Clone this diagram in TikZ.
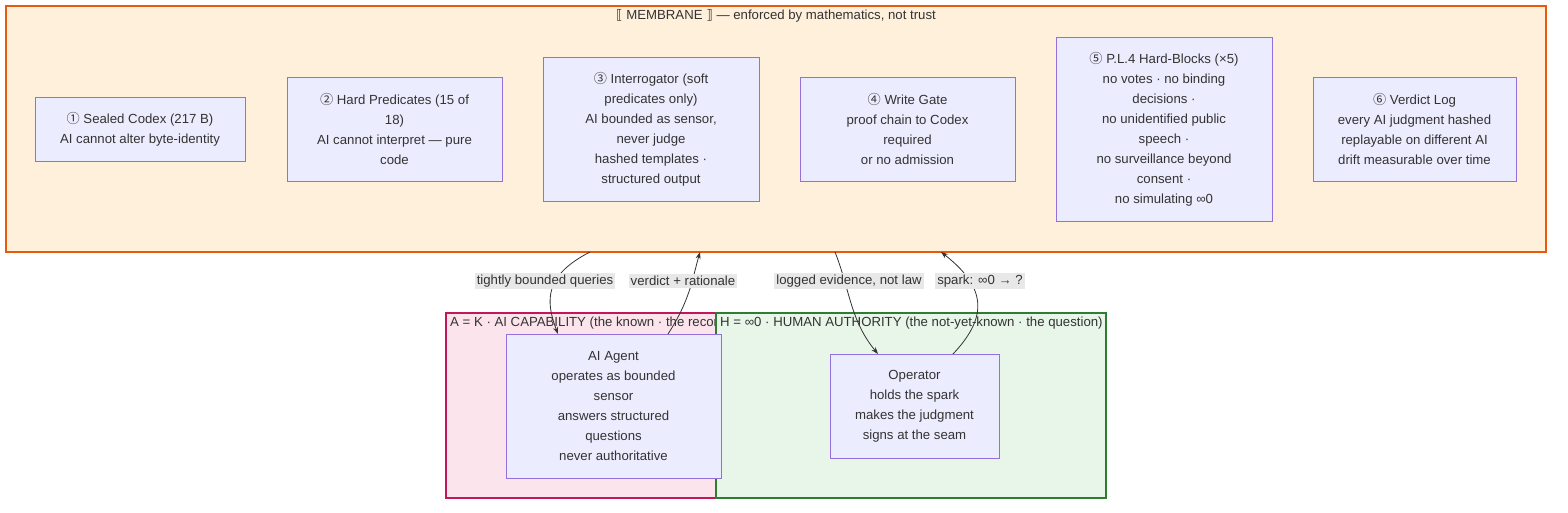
\documentclass[tikz,border=0pt]{standalone}
\usepackage{fontspec}
\setmainfont{Liberation Sans}
\newfontfamily\symf{DejaVu Sans}
\newfontfamily\cjkf{Noto Sans CJK SC}
\usetikzlibrary{arrows.meta}
\definecolor{memf}{HTML}{FFF0DC}\definecolor{mems}{HTML}{E8590C}
\definecolor{boxf}{HTML}{ECECFF}\definecolor{boxs}{HTML}{9370DB}
\definecolor{af}{HTML}{FCE4EC}\definecolor{as}{HTML}{C2185B}
\definecolor{hf}{HTML}{E8F5E9}\definecolor{hs}{HTML}{2E7D32}
\definecolor{txt}{HTML}{333333}
\newcommand{\cn}[1]{{\cjkf #1}}
\begin{document}
\begin{tikzpicture}[x=1pt,y=-1pt,
  every node/.style={font=\fontsize{13.2}{20}\selectfont, text=txt},
  box/.style={draw=boxs, fill=boxf, line width=0.8pt, align=center, inner sep=0pt},
  lab/.style={fill=black!9, inner sep=2pt, font=\fontsize{13.2}{15}\selectfont},
  edge/.style={draw=txt, line width=0.8pt, -{Stealth[length=7pt,width=5pt]}}]
\useasboundingbox (0,0) rectangle (1568,512);
\fill[white] (0,0) rectangle (1568,512);
\draw[draw=mems, fill=memf, line width=2.5pt] (6,6) rectangle (1546,252);
\node (mt) at (776,16) {{\symf ⟦} MEMBRANE {\symf ⟧} — enforced by mathematics, not trust};
\node[box, minimum width=210pt, minimum height=64pt] (b1) at (140,129) {\cn{①} Sealed Codex (217 B)\\AI cannot alter byte-identity};
\node[box, minimum width=215pt, minimum height=104pt] (b2) at (394.5,129) {\cn{②} Hard Predicates (15 of\\18)\\AI cannot interpret — pure\\code};
\node[box, minimum width=216pt, minimum height=144pt] (b3) at (651,129) {\cn{③} Interrogator (soft\\predicates only)\\AI bounded as sensor,\\never judge\\hashed templates ·\\structured output};
\node[box, minimum width=215pt, minimum height=104pt] (b4) at (907.5,129) {\cn{④} Write Gate\\proof chain to Codex\\required\\or no admission};
\node[box, minimum width=216pt, minimum height=184pt] (b5) at (1164,129) {\cn{⑤} P.L.4 Hard-Blocks (×5)\\no votes · no binding\\decisions ·\\no unidentified public\\speech ·\\no surveillance beyond\\consent ·\\no simulating ∞0};
\node[box, minimum width=203pt, minimum height=104pt] (b6) at (1414.5,129) {\cn{⑥} Verdict Log\\every AI judgment hashed\\replayable on different AI\\drift measurable over time};
\draw[draw=as, fill=af, line width=1.5pt] (446,313) rectangle (716,498);
\begin{scope}
\clip (446,313) rectangle (716,340);
\node[anchor=west, inner sep=0pt] (al) at (450,323) {A = K · AI CAPABILITY (the known · the record)};
\end{scope}
\draw[draw=hs, fill=hf, line width=1.5pt] (716,313) rectangle (1106,498);
\node[anchor=west, inner sep=0pt] (hl) at (720,323) {H = ∞0 · HUMAN AUTHORITY (the not-yet-known · the question)};
\node[box, minimum width=215pt, minimum height=144pt] (ai) at (613.5,406) {AI Agent\\operates as bounded\\sensor\\answers structured\\questions\\never authoritative};
\node[box, minimum width=169pt, minimum height=104pt] (op) at (914.5,406) {Operator\\holds the spark\\makes the judgment\\signs at the seam};
\coordinate (m1) at (590,252); \coordinate (m2) at (700,252);
\coordinate (m3) at (835,252); \coordinate (m4) at (941,252);
\draw[edge] (m1) .. controls (545,275) and (545,300) .. (558,334);
\draw[edge] (668,334) .. controls (690,300) and (692,280) .. (m2);
\draw[edge] (m3) .. controls (850,290) and (850,320) .. (878,354);
\draw[edge] (953,354) .. controls (985,320) and (990,290) .. (m4);
\node[lab] (l1) at (545,281) {tightly bounded queries};
\node[lab] (l2) at (683,281) {verdict + rationale};
\node[lab] (l3) at (849,281) {logged evidence, not law};
\node[lab] (l4) at (980,281) {spark: ∞0 → ?};
\end{tikzpicture}
\end{document}
